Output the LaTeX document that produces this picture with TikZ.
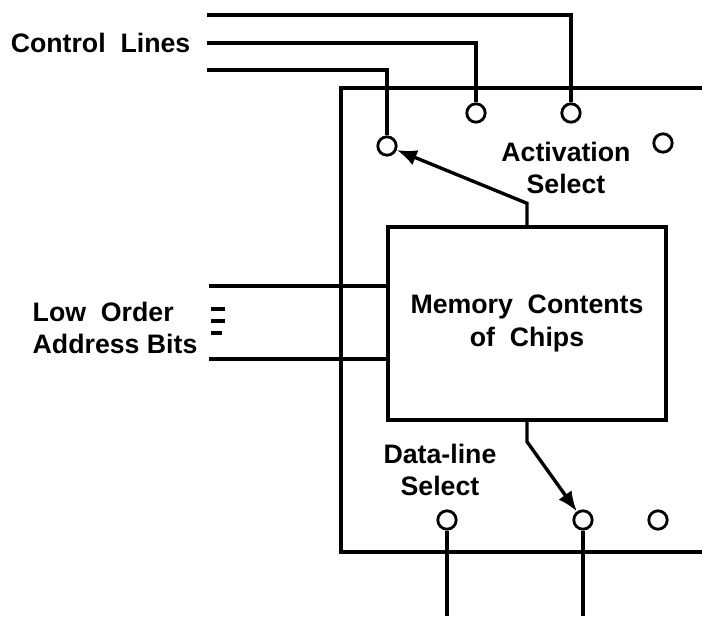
\documentclass[tikz,border=0pt]{standalone}
\usepackage{fontspec}
\setmainfont{Liberation Sans}
\usetikzlibrary{arrows.meta}
\tikzset{
  contact/.style={draw, circle, line width=2pt, minimum size=0.46cm, inner sep=0pt},
  chipbox/.style={draw, line width=2.4pt, minimum width=6.95cm, minimum height=4.825cm, align=center},
  lbl/.style={align=center, inner sep=0pt},
  sel/.style={line width=2.4pt, -{Latex[length=5mm,width=4mm]}}
}

\begin{document}
\begin{tikzpicture}[line width=2.4pt, font=\fontsize{19}{23}\selectfont\bfseries]
          \useasboundingbox (0,0) rectangle (17.55,15.4);

          % control lines and activation select
          \node[lbl, anchor=east] (ctl) at (4.8,14.325) {Control~~Lines};
          \coordinate (cl1) at (5.175,15.025);
          \coordinate (cl2) at (5.175,14.325);
          \coordinate (cl3) at (5.175,13.65);
          \node[contact] (act1) at (14.275,12.575) {};
          \node[contact] (act2) at (11.9,12.575) {};
          \node[contact] (act3) at (9.675,11.75) {};
          \node[contact] (act4) at (16.575,11.825) {};
          \node[lbl] (actsel) at (14.15,11.2) {Activation\\Select};
          \draw (cl1) -| (act1)
          (cl2) -| (act2)
          (cl3) -| (act3);

          % module frame, open on the right
          \draw (17.55,13.2) -- (8.525,13.2) -- (8.525,1.6) -- (17.55,1.6);

          \node[chipbox] (mem) at (13.175,7.3125) {Memory~~Contents\\of~~Chips};
          \draw[sel] (mem.north) -- ++(0,0.55) -- (act3);

          % low order address bits
          \node[lbl, anchor=west, align=left] (lob) at (0.775,7.2) {Low~~Order\\Address Bits};
          \coordinate (ad1) at (5.225,8.25);
          \coordinate (ad2) at (5.225,6.425);
          \draw (ad1) -- (ad1 -| mem.west)
          (ad2) -- (ad2 -| mem.west);
          \foreach \y/\w in {7.675/0.35, 7.375/0.35, 7.075/0.27}
            \draw[line width=2.8pt] (5.275,\y) -- ++(\w,0);

          % data-line select
          \node[lbl] (dlsel) at (11.0,3.65) {Data-line\\Select};
          \node[contact] (dl1) at (11.175,2.4) {};
          \node[contact] (dl2) at (14.575,2.4) {};
          \node[contact] (dl3) at (16.45,2.4) {};
          \coordinate (out1) at (11.175,0);
          \coordinate (out2) at (14.575,0);
          \draw (dl1) -- (out1)
          (dl2) -- (out2);
          \draw[sel] (mem.south) -- ++(0,-0.5) -- (dl2);
        \end{tikzpicture}
\end{document}
